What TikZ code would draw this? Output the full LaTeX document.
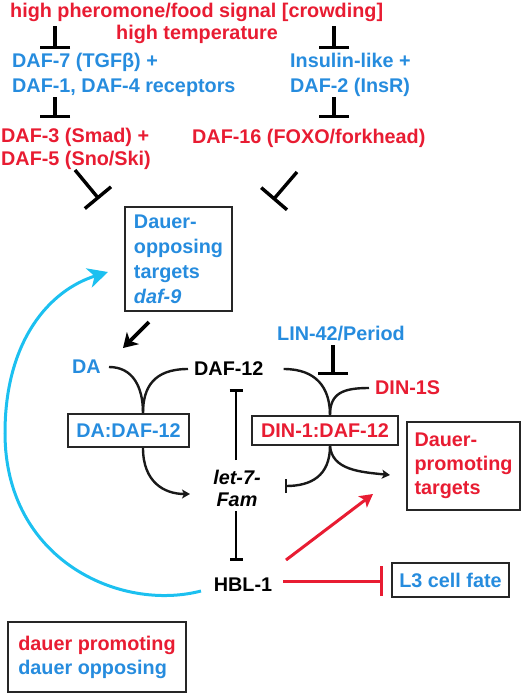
\documentclass[tikz,border=0pt]{standalone}
\usepackage{fontspec}
\setmainfont{Liberation Sans}
\usetikzlibrary{arrows.meta}
\definecolor{mred}{RGB}{232,28,50}
\definecolor{mblue}{RGB}{38,140,222}
\definecolor{mcyan}{RGB}{28,192,240}
\begin{document}
\begin{tikzpicture}[x=1pt,y=-1pt,
  every node/.style={font=\bfseries\fontsize{19.8}{25}\selectfont, inner sep=0pt},
  R/.style={text=mred}, B/.style={text=mblue}, K/.style={text=black},
  box/.style={draw=black!85, line width=1.8pt},
  inh/.style={line width=3.4pt, -{Bar[width=30pt,line width=3.4pt]}},
  inhdiag/.style={line width=3.4pt, -{Bar[width=34pt,line width=3.4pt]}},
  inhthin/.style={line width=2.6pt, -{Bar[width=13pt,line width=2.6pt]}},
  conn/.style={line width=2.4pt, black!90},
  smalltip/.style={-{Stealth[length=8pt,width=9pt,inset=2pt]}}]
\useasboundingbox (0,0) rectangle (531,694);

% top signals
\node[R, anchor=west] (t1) at (10,12) {high pheromone/food signal [crowding]};
\node[R, anchor=west] (t2) at (116,34) {high temperature};
\node[B, anchor=west, align=left] (d7) at (12,75) {DAF-7 (TGFβ) +\\DAF-1, DAF-4 receptors};
\node[B, anchor=west, align=left] (ins) at (290,75) {Insulin-like +\\DAF-2 (InsR)};
\node[R, anchor=west, align=left] (d3) at (1,149) {DAF-3 (Smad) +\\[-2pt]DAF-5 (Sno/Ski)};
\node[R, anchor=west] (d16) at (192,138) {DAF-16 (FOXO/forkhead)};

\coordinate (a1) at (55,26);  \coordinate (a1e) at (55,49);
\coordinate (a2) at (334,26); \coordinate (a2e) at (334,49);
\coordinate (a3) at (55,97);  \coordinate (a3e) at (55,118);
\coordinate (a4) at (334,97); \coordinate (a4e) at (334,118);
\draw[inh] (a1) -- (a1e);
\draw[inh] (a2) -- (a2e);
\draw[inh] (a3) -- (a3e);
\draw[inh] (a4) -- (a4e);

\coordinate (b1) at (75,170);  \coordinate (b1e) at (99,199);
\coordinate (b2) at (297,172); \coordinate (b2e) at (273,200);
\draw[inhdiag] (b1) -- (b1e);
\draw[inhdiag] (b2) -- (b2e);

% dauer-opposing targets
\node[box, B, align=left, minimum width=107pt, minimum height=104pt] (dop) at (178.5,259)
  {Dauer-\\opposing\\targets\\\textit{daf-9}};

\coordinate (c1) at (149,322); \coordinate (c1e) at (123,348);
\draw[line width=3.6pt, -{Stealth[length=14pt,width=17pt,inset=4pt]}] (c1) -- (c1e);

% middle
\node[B, anchor=west] (da) at (72,367) {DA};
\node[K, anchor=west] (d12) at (194,369) {DAF-12};
\node[box, B, minimum width=121pt, minimum height=33pt] (dad) at (128.5,430.5) {DA:DAF-12};
\node[box, R, minimum width=146pt, minimum height=29pt] (din) at (325,430.5) {DIN-1:DAF-12};
\node[R, anchor=west] (din1s) at (375,388) {DIN-1S};
\node[B, anchor=west] (lin) at (277,334) {LIN-42/Period};
\node[K, align=center, font=\bfseries\itshape\fontsize{19.8}{25}\selectfont] (let7) at (237,488) {let-7-\\[-3pt]Fam};
\node[box, R, align=left, minimum width=113pt, minimum height=88pt] (dpt) at (463.5,466)
  {Dauer-\\[-1pt]promoting\\[-1pt]targets};
\node[K] (hbl) at (243,585) {HBL-1};
\node[box, B, minimum width=117pt, minimum height=34pt] (l3) at (450.5,580) {L3 cell fate};
\node[box, align=left, minimum width=178pt, minimum height=70pt] (leg) at (97,657)
  {\textcolor{mred}{dauer promoting}\\[-1pt]\textcolor{mblue}{dauer opposing}};

% curves into complexes
\coordinate (m1) at ([xshift=14.5pt]dad.north);
\coordinate (m2) at ([xshift=14.5pt]dad.south);
\draw[conn] ([xshift=8pt]da.east) .. controls +(24,0) and +(0,-26) .. (m1);
\draw[conn] ([xshift=-6pt]d12.west) .. controls +(-34,0) and +(0,-26) .. (m1);
\coordinate (e1) at (190,494);
\draw[conn, smalltip] (m2) .. controls +(0,34) and +(-26,0) .. (e1);

\coordinate (n1) at ([xshift=5pt]din.north);
\coordinate (n2) at ([xshift=5pt]din.south);
\draw[conn] ([xshift=20pt]d12.east) .. controls +(32,0) and +(0,-28) .. (n1);
\draw[conn] ([xshift=-6pt]din1s.west) .. controls +(-26,0) and +(0,-22) .. (n1);
\coordinate (e2) at (285,486);
\coordinate (e3) at (390,475);
\draw[conn, -{Bar[width=14pt,line width=1.6pt]}] (n2) .. controls +(0,30) and +(26,0) .. (e2);
\draw[conn, smalltip] (n2) .. controls +(2,24) and +(-30,-3) .. (e3);

\coordinate (l1) at (333,345); \coordinate (l1e) at (333,375);
\draw[inh] (l1) -- (l1e);

\coordinate (k1) at (236,460); \coordinate (k1e) at (236,389);
\coordinate (k2) at (236,511); \coordinate (k2e) at (236,561);
\draw[inhthin] (k1) -- (k1e);
\draw[inhthin] (k2) -- (k2e);

% red connectors
\coordinate (r1) at (286,560); \coordinate (r1e) at (373,494);
\draw[mred, line width=3pt, -{Stealth[length=13pt,width=14pt,inset=3pt]}] (r1) -- (r1e);
\coordinate (r2) at (283,581); \coordinate (r2e) at (383,581);
\draw[mred, line width=3pt, -{Bar[width=30pt,line width=3pt]}] (r2) -- (r2e);

% cyan feedback
\coordinate (f1) at (201,591);
\coordinate (f2) at (5,433);
\coordinate (f3) at (108,272);
\draw[mcyan, line width=3pt, -{Stealth[length=20pt,width=20pt,inset=6pt]}]
  (f1) .. controls (120,612) and (5,560) .. (f2)
       .. controls (5,340) and (50,290) .. (f3);
\end{tikzpicture}
\end{document}
